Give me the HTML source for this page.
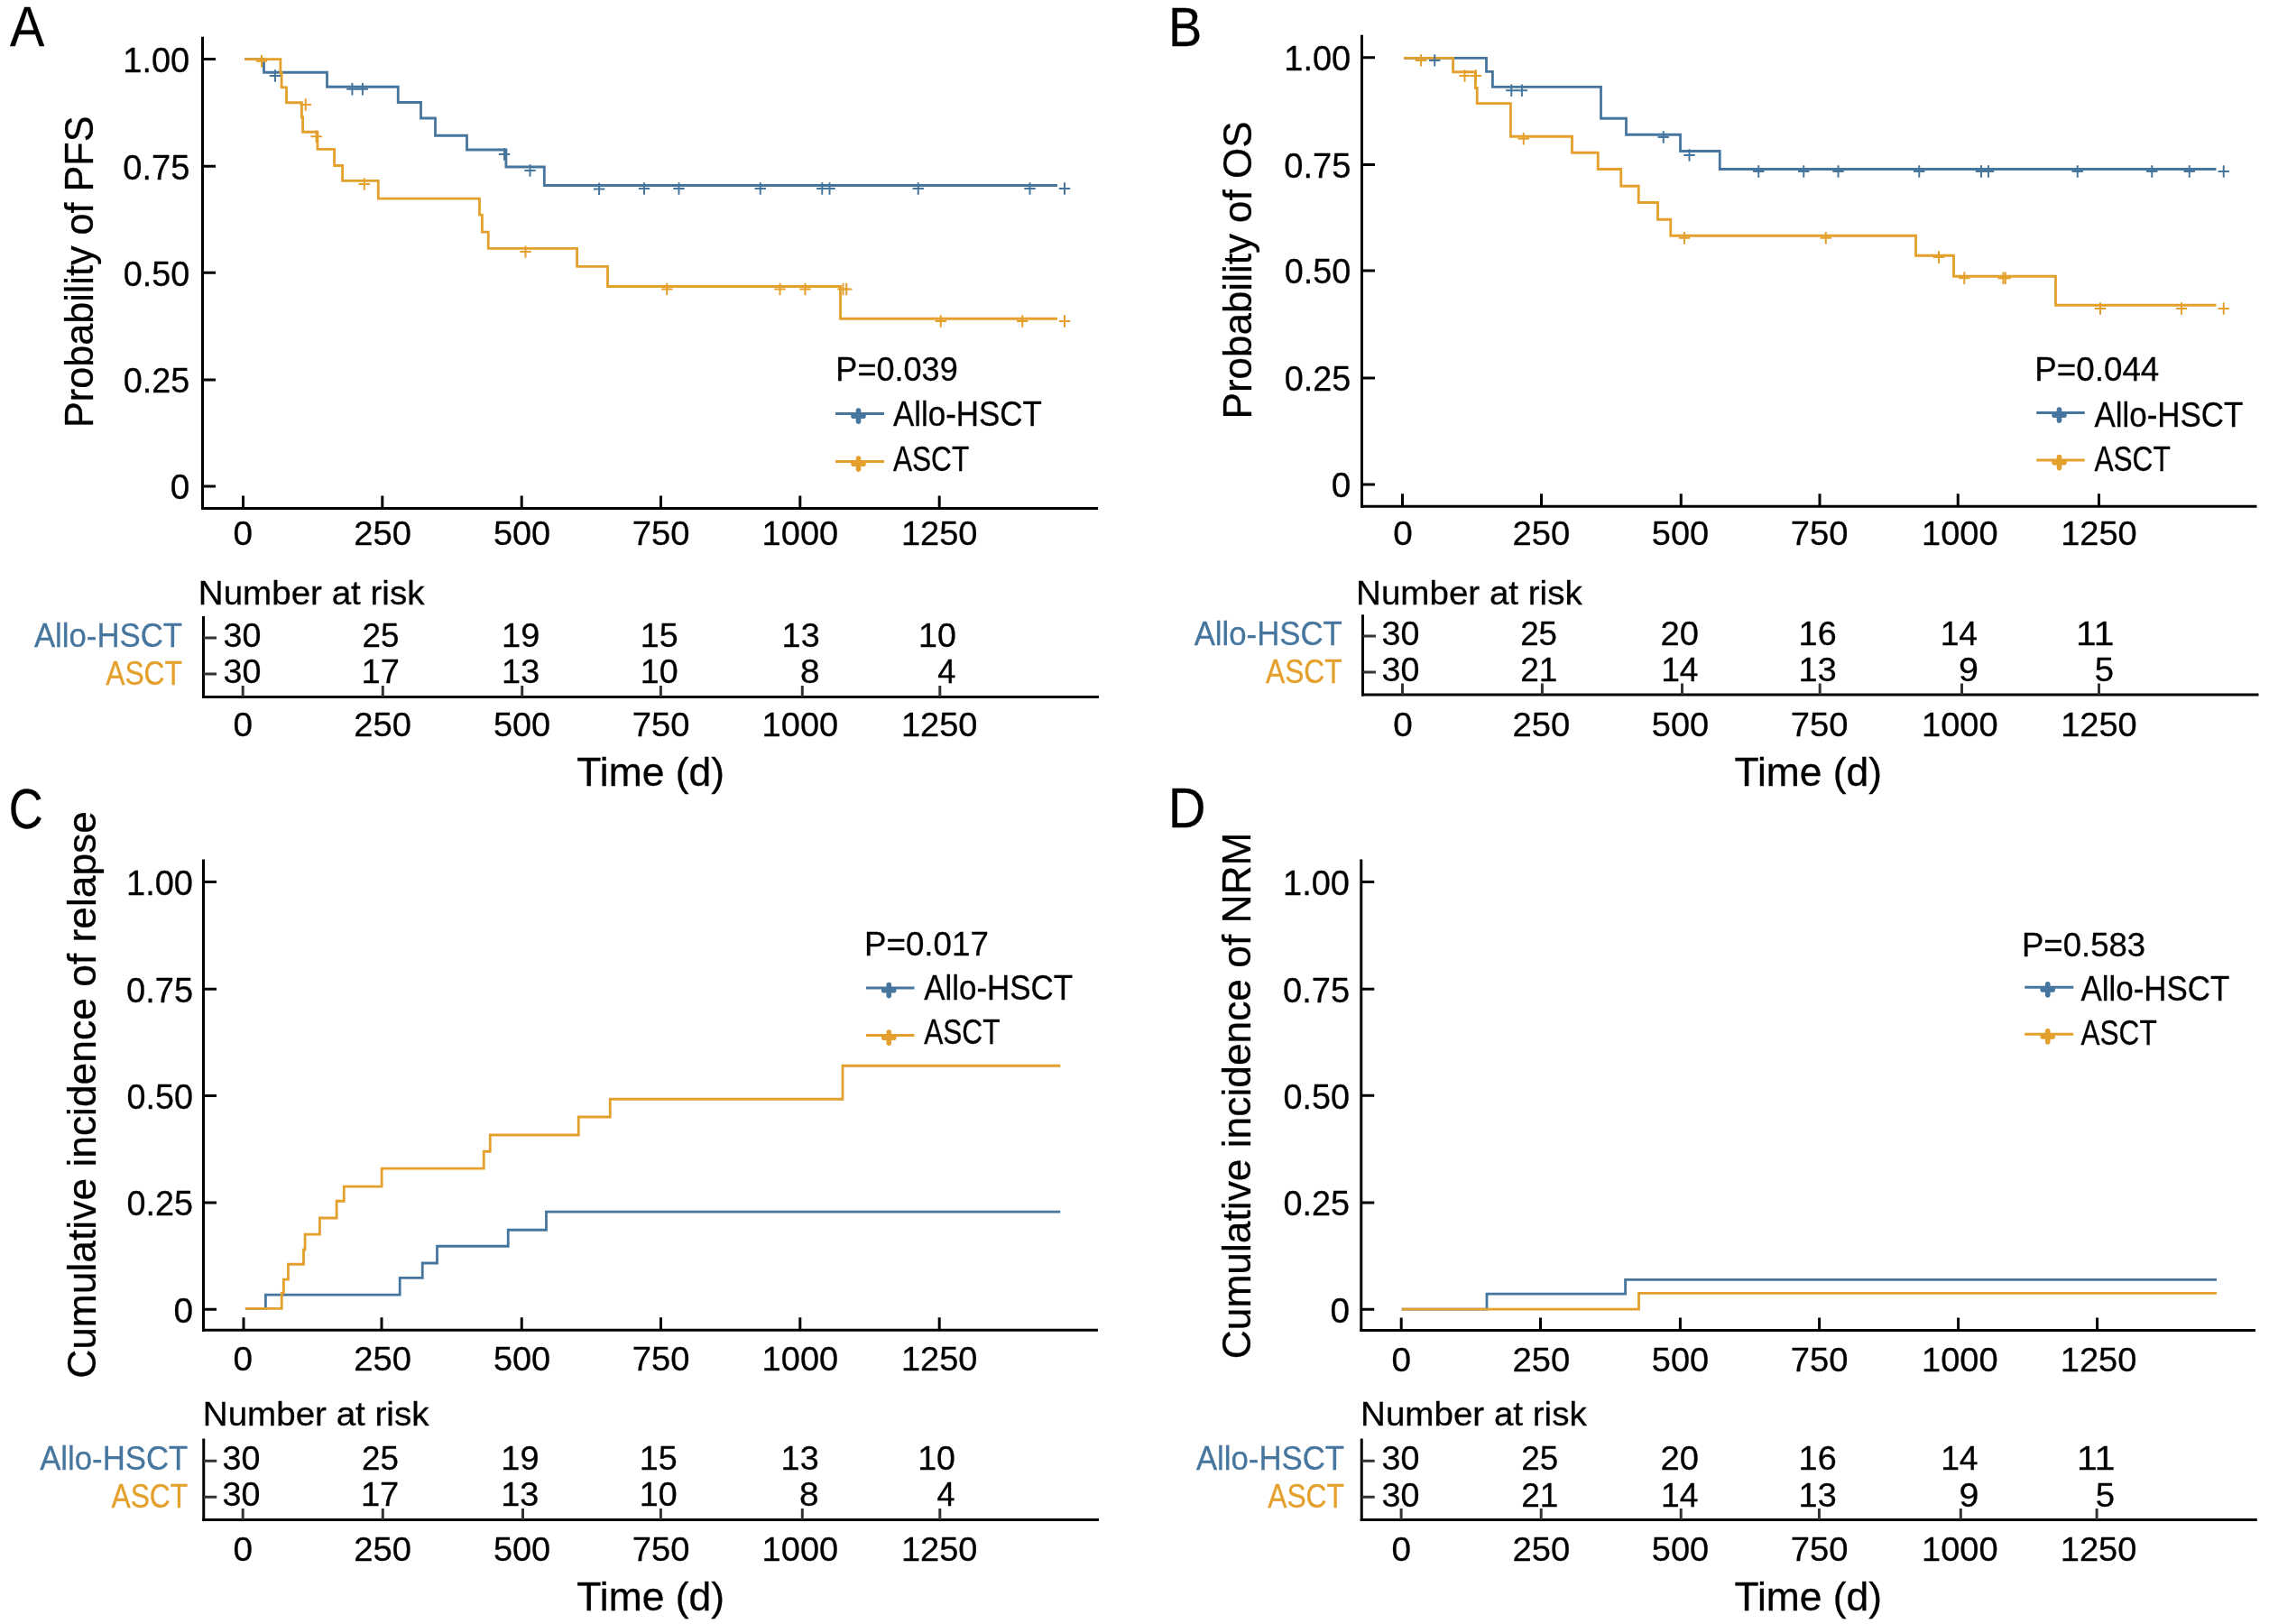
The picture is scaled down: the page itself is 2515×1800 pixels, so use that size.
<!DOCTYPE html>
<html><head><meta charset="utf-8"><style>
html,body{margin:0;padding:0;background:#fff;}
svg{display:block;will-change:transform;}
text{font-family:"Liberation Sans", sans-serif;}
</style></head><body>
<svg width="2515" height="1800" viewBox="0 0 2515 1800">
<rect width="2515" height="1800" fill="#fff"/>
<text x="10.89" y="51.00" font-size="63.23" textLength="38.22" lengthAdjust="spacingAndGlyphs" fill="#000" stroke="#000" stroke-width="0.3">A</text>
<line x1="224.5" y1="40.75" x2="224.5" y2="565.0" stroke="#000" stroke-width="3" stroke-linecap="butt"/>
<line x1="223.0" y1="563.5" x2="1217" y2="563.5" stroke="#000" stroke-width="3" stroke-linecap="butt"/>
<line x1="224.5" y1="65.5" x2="239.0" y2="65.5" stroke="#000" stroke-width="3" stroke-linecap="butt"/>
<text x="136.36" y="79.80" font-size="37.94" textLength="73.87" lengthAdjust="spacingAndGlyphs" fill="#000" stroke="#000" stroke-width="0.3">1.00</text>
<line x1="224.5" y1="184.25" x2="239.0" y2="184.25" stroke="#000" stroke-width="3" stroke-linecap="butt"/>
<text x="136.26" y="198.55" font-size="37.94" textLength="74.09" lengthAdjust="spacingAndGlyphs" fill="#000" stroke="#000" stroke-width="0.3">0.75</text>
<line x1="224.5" y1="302.25" x2="239.0" y2="302.25" stroke="#000" stroke-width="3" stroke-linecap="butt"/>
<text x="136.78" y="316.55" font-size="37.94" textLength="73.45" lengthAdjust="spacingAndGlyphs" fill="#000" stroke="#000" stroke-width="0.3">0.50</text>
<line x1="224.5" y1="421" x2="239.0" y2="421" stroke="#000" stroke-width="3" stroke-linecap="butt"/>
<text x="136.77" y="435.30" font-size="37.94" textLength="73.56" lengthAdjust="spacingAndGlyphs" fill="#000" stroke="#000" stroke-width="0.3">0.25</text>
<line x1="224.5" y1="539" x2="239.0" y2="539" stroke="#000" stroke-width="3" stroke-linecap="butt"/>
<text x="188.74" y="553.30" font-size="37.94" textLength="21.52" lengthAdjust="spacingAndGlyphs" fill="#000" stroke="#000" stroke-width="0.3">0</text>
<line x1="269.5" y1="549.5" x2="269.5" y2="563.5" stroke="#000" stroke-width="3" stroke-linecap="butt"/>
<text x="258.54" y="603.80" font-size="37.79" textLength="21.52" lengthAdjust="spacingAndGlyphs" fill="#000" stroke="#000" stroke-width="0.3">0</text>
<line x1="423.8" y1="549.5" x2="423.8" y2="563.5" stroke="#000" stroke-width="3" stroke-linecap="butt"/>
<text x="392.23" y="603.80" font-size="37.79" textLength="63.71" lengthAdjust="spacingAndGlyphs" fill="#000" stroke="#000" stroke-width="0.3">250</text>
<line x1="578.2" y1="549.5" x2="578.2" y2="563.5" stroke="#000" stroke-width="3" stroke-linecap="butt"/>
<text x="546.93" y="603.80" font-size="37.79" textLength="63.30" lengthAdjust="spacingAndGlyphs" fill="#000" stroke="#000" stroke-width="0.3">500</text>
<line x1="732.5" y1="549.5" x2="732.5" y2="563.5" stroke="#000" stroke-width="3" stroke-linecap="butt"/>
<text x="700.69" y="603.80" font-size="37.79" textLength="63.75" lengthAdjust="spacingAndGlyphs" fill="#000" stroke="#000" stroke-width="0.3">750</text>
<line x1="886.8" y1="549.5" x2="886.8" y2="563.5" stroke="#000" stroke-width="3" stroke-linecap="butt"/>
<text x="844.60" y="603.80" font-size="37.79" textLength="84.58" lengthAdjust="spacingAndGlyphs" fill="#000" stroke="#000" stroke-width="0.3">1000</text>
<line x1="1041.2" y1="549.5" x2="1041.2" y2="563.5" stroke="#000" stroke-width="3" stroke-linecap="butt"/>
<text x="998.90" y="603.80" font-size="37.79" textLength="84.58" lengthAdjust="spacingAndGlyphs" fill="#000" stroke="#000" stroke-width="0.3">1250</text>
<text transform="translate(102.90,470.50) rotate(-90)" x="-3.54" y="0" font-size="43.90" textLength="345.52" lengthAdjust="spacingAndGlyphs" fill="#000" stroke="#000" stroke-width="0.3">Probability of PFS</text>
<text x="926.34" y="422.00" font-size="37.79" textLength="135.37" lengthAdjust="spacingAndGlyphs" fill="#000" stroke="#000" stroke-width="0.3">P=0.039</text>
<line x1="926" y1="458.5" x2="980" y2="458.5" stroke="#46769e" stroke-width="2.8" stroke-linecap="butt"/>
<path d="M946.00 461.30H957.00M951.50 455.00V467.10" stroke="#46769e" stroke-width="5.6" stroke-linecap="round" fill="none"/>
<text x="989.93" y="471.75" font-size="38.08" textLength="164.87" lengthAdjust="spacingAndGlyphs" fill="#000" stroke="#000" stroke-width="0.3">Allo-HSCT</text>
<line x1="926" y1="511.5" x2="980" y2="511.5" stroke="#e4a02c" stroke-width="2.8" stroke-linecap="butt"/>
<path d="M946.00 514.30H957.00M951.50 508.00V520.10" stroke="#e4a02c" stroke-width="5.6" stroke-linecap="round" fill="none"/>
<text x="989.94" y="521.75" font-size="38.08" textLength="84.29" lengthAdjust="spacingAndGlyphs" fill="#000" stroke="#000" stroke-width="0.3">ASCT</text>
<path d="M271.25 65.6H292.5V80.25H362.5V96.25H441.25V113.5H466.5V131H482.5V150.25H517.5V166H560.9V185H603.3V205.5H1172" fill="none" stroke="#46769e" stroke-width="2.8" stroke-linejoin="miter"/>
<path d="M271.25 65.6H310.9V81H312.1V96.9H317.5V113.75H334.4V130H335.6V146.25H351.9V165.4H370.6V183.5H379.6V200.4H419.3V220.2H531.5V238.1H534.4V257.1H541.25V275.4H639.6V295.4H673.5V317.5H931.5V353.25H1172" fill="none" stroke="#e4a02c" stroke-width="2.8" stroke-linejoin="miter"/>
<path d="M298.80 84.00H311.20M305.00 77.30V90.70" stroke="#46769e" stroke-width="2.0" fill="none"/>
<path d="M384.20 98.75H396.60M390.40 92.05V105.45" stroke="#46769e" stroke-width="2.0" fill="none"/>
<path d="M395.70 98.75H408.10M401.90 92.05V105.45" stroke="#46769e" stroke-width="2.0" fill="none"/>
<path d="M552.80 171.00H565.20M559.00 164.30V177.70" stroke="#46769e" stroke-width="2.0" fill="none"/>
<path d="M581.30 189.00H593.70M587.50 182.30V195.70" stroke="#46769e" stroke-width="2.0" fill="none"/>
<path d="M657.90 209.40H670.30M664.10 202.70V216.10" stroke="#46769e" stroke-width="2.0" fill="none"/>
<path d="M707.80 209.00H720.20M714.00 202.30V215.70" stroke="#46769e" stroke-width="2.0" fill="none"/>
<path d="M746.30 209.00H758.70M752.50 202.30V215.70" stroke="#46769e" stroke-width="2.0" fill="none"/>
<path d="M836.55 209.00H848.95M842.75 202.30V215.70" stroke="#46769e" stroke-width="2.0" fill="none"/>
<path d="M905.05 209.00H917.45M911.25 202.30V215.70" stroke="#46769e" stroke-width="2.0" fill="none"/>
<path d="M913.30 209.00H925.70M919.50 202.30V215.70" stroke="#46769e" stroke-width="2.0" fill="none"/>
<path d="M1011.55 209.00H1023.95M1017.75 202.30V215.70" stroke="#46769e" stroke-width="2.0" fill="none"/>
<path d="M1135.30 209.00H1147.70M1141.50 202.30V215.70" stroke="#46769e" stroke-width="2.0" fill="none"/>
<path d="M1173.80 209.00H1186.20M1180.00 202.30V215.70" stroke="#46769e" stroke-width="2.0" fill="none"/>
<path d="M283.80 67.75H296.20M290.00 61.05V74.45" stroke="#e4a02c" stroke-width="2.0" fill="none"/>
<path d="M332.55 116.00H344.95M338.75 109.30V122.70" stroke="#e4a02c" stroke-width="2.0" fill="none"/>
<path d="M344.40 151.25H356.80M350.60 144.55V157.95" stroke="#e4a02c" stroke-width="2.0" fill="none"/>
<path d="M397.55 204.00H409.95M403.75 197.30V210.70" stroke="#e4a02c" stroke-width="2.0" fill="none"/>
<path d="M576.30 279.10H588.70M582.50 272.40V285.80" stroke="#e4a02c" stroke-width="2.0" fill="none"/>
<path d="M733.05 320.50H745.45M739.25 313.80V327.20" stroke="#e4a02c" stroke-width="2.0" fill="none"/>
<path d="M858.30 320.50H870.70M864.50 313.80V327.20" stroke="#e4a02c" stroke-width="2.0" fill="none"/>
<path d="M886.30 320.50H898.70M892.50 313.80V327.20" stroke="#e4a02c" stroke-width="2.0" fill="none"/>
<path d="M928.30 320.50H940.70M934.50 313.80V327.20" stroke="#e4a02c" stroke-width="2.0" fill="none"/>
<path d="M932.05 320.50H944.45M938.25 313.80V327.20" stroke="#e4a02c" stroke-width="2.0" fill="none"/>
<path d="M1036.55 356.00H1048.95M1042.75 349.30V362.70" stroke="#e4a02c" stroke-width="2.0" fill="none"/>
<path d="M1127.05 356.00H1139.45M1133.25 349.30V362.70" stroke="#e4a02c" stroke-width="2.0" fill="none"/>
<path d="M1173.80 356.00H1186.20M1180.00 349.30V362.70" stroke="#e4a02c" stroke-width="2.0" fill="none"/>
<text x="219.84" y="670.00" font-size="37.79" textLength="250.61" lengthAdjust="spacingAndGlyphs" fill="#000" stroke="#000" stroke-width="0.3">Number at risk</text>
<line x1="225.5" y1="683" x2="225.5" y2="774.0" stroke="#000" stroke-width="3" stroke-linecap="butt"/>
<line x1="224.0" y1="772.5" x2="1218" y2="772.5" stroke="#000" stroke-width="3" stroke-linecap="butt"/>
<line x1="225.5" y1="707" x2="240.0" y2="707" stroke="#333" stroke-width="3" stroke-linecap="butt"/>
<line x1="225.5" y1="747" x2="240.0" y2="747" stroke="#333" stroke-width="3" stroke-linecap="butt"/>
<line x1="269.2" y1="760.0" x2="269.2" y2="772.5" stroke="#333" stroke-width="3" stroke-linecap="butt"/>
<line x1="424.3" y1="760.0" x2="424.3" y2="772.5" stroke="#333" stroke-width="3" stroke-linecap="butt"/>
<line x1="578.7" y1="760.0" x2="578.7" y2="772.5" stroke="#333" stroke-width="3" stroke-linecap="butt"/>
<line x1="732.4" y1="760.0" x2="732.4" y2="772.5" stroke="#333" stroke-width="3" stroke-linecap="butt"/>
<line x1="889.3" y1="760.0" x2="889.3" y2="772.5" stroke="#333" stroke-width="3" stroke-linecap="butt"/>
<line x1="1041.8" y1="760.0" x2="1041.8" y2="772.5" stroke="#333" stroke-width="3" stroke-linecap="butt"/>
<text x="37.88" y="716.75" font-size="37.65" textLength="164.17" lengthAdjust="spacingAndGlyphs" fill="#46769e" stroke="#46769e" stroke-width="0.3">Allo-HSCT</text>
<text x="117.19" y="758.75" font-size="37.65" textLength="84.79" lengthAdjust="spacingAndGlyphs" fill="#e4a02c" stroke="#e4a02c" stroke-width="0.3">ASCT</text>
<text x="247.57" y="717.20" font-size="37.79" textLength="41.91" lengthAdjust="spacingAndGlyphs" fill="#000" stroke="#000" stroke-width="0.3">30</text>
<text x="401.55" y="717.20" font-size="37.79" textLength="40.89" lengthAdjust="spacingAndGlyphs" fill="#000" stroke="#000" stroke-width="0.3">25</text>
<text x="556.11" y="717.20" font-size="37.79" textLength="42.19" lengthAdjust="spacingAndGlyphs" fill="#000" stroke="#000" stroke-width="0.3">19</text>
<text x="709.83" y="717.20" font-size="37.79" textLength="41.96" lengthAdjust="spacingAndGlyphs" fill="#000" stroke="#000" stroke-width="0.3">15</text>
<text x="866.62" y="717.20" font-size="37.79" textLength="42.04" lengthAdjust="spacingAndGlyphs" fill="#000" stroke="#000" stroke-width="0.3">13</text>
<text x="1018.04" y="717.20" font-size="37.79" textLength="41.83" lengthAdjust="spacingAndGlyphs" fill="#000" stroke="#000" stroke-width="0.3">10</text>
<text x="247.57" y="757.00" font-size="37.79" textLength="41.91" lengthAdjust="spacingAndGlyphs" fill="#000" stroke="#000" stroke-width="0.3">30</text>
<text x="400.50" y="757.00" font-size="37.79" textLength="42.31" lengthAdjust="spacingAndGlyphs" fill="#000" stroke="#000" stroke-width="0.3">17</text>
<text x="556.12" y="757.00" font-size="37.79" textLength="42.04" lengthAdjust="spacingAndGlyphs" fill="#000" stroke="#000" stroke-width="0.3">13</text>
<text x="709.84" y="757.00" font-size="37.79" textLength="41.83" lengthAdjust="spacingAndGlyphs" fill="#000" stroke="#000" stroke-width="0.3">10</text>
<text x="887.11" y="757.00" font-size="37.79" textLength="21.57" lengthAdjust="spacingAndGlyphs" fill="#000" stroke="#000" stroke-width="0.3">8</text>
<text x="1039.37" y="757.00" font-size="37.79" textLength="20.09" lengthAdjust="spacingAndGlyphs" fill="#000" stroke="#000" stroke-width="0.3">4</text>
<text x="258.54" y="815.50" font-size="37.79" textLength="21.52" lengthAdjust="spacingAndGlyphs" fill="#000" stroke="#000" stroke-width="0.3">0</text>
<text x="392.23" y="815.50" font-size="37.79" textLength="63.71" lengthAdjust="spacingAndGlyphs" fill="#000" stroke="#000" stroke-width="0.3">250</text>
<text x="546.93" y="815.50" font-size="37.79" textLength="63.30" lengthAdjust="spacingAndGlyphs" fill="#000" stroke="#000" stroke-width="0.3">500</text>
<text x="700.69" y="815.50" font-size="37.79" textLength="63.75" lengthAdjust="spacingAndGlyphs" fill="#000" stroke="#000" stroke-width="0.3">750</text>
<text x="844.60" y="815.50" font-size="37.79" textLength="84.58" lengthAdjust="spacingAndGlyphs" fill="#000" stroke="#000" stroke-width="0.3">1000</text>
<text x="998.90" y="815.50" font-size="37.79" textLength="84.58" lengthAdjust="spacingAndGlyphs" fill="#000" stroke="#000" stroke-width="0.3">1250</text>
<text x="639.31" y="870.80" font-size="44.04" textLength="163.72" lengthAdjust="spacingAndGlyphs" fill="#000" stroke="#000" stroke-width="0.3">Time (d)</text>
<text x="1294.91" y="51.25" font-size="61.77" textLength="37.28" lengthAdjust="spacingAndGlyphs" fill="#000" stroke="#000" stroke-width="0.3">B</text>
<line x1="1509.5" y1="38.75" x2="1509.5" y2="562.75" stroke="#000" stroke-width="3" stroke-linecap="butt"/>
<line x1="1508.0" y1="561.25" x2="2501.5" y2="561.25" stroke="#000" stroke-width="3" stroke-linecap="butt"/>
<line x1="1509.5" y1="63.75" x2="1524.0" y2="63.75" stroke="#000" stroke-width="3" stroke-linecap="butt"/>
<text x="1423.36" y="78.05" font-size="37.94" textLength="73.87" lengthAdjust="spacingAndGlyphs" fill="#000" stroke="#000" stroke-width="0.3">1.00</text>
<line x1="1509.5" y1="182.5" x2="1524.0" y2="182.5" stroke="#000" stroke-width="3" stroke-linecap="butt"/>
<text x="1423.26" y="196.80" font-size="37.94" textLength="74.09" lengthAdjust="spacingAndGlyphs" fill="#000" stroke="#000" stroke-width="0.3">0.75</text>
<line x1="1509.5" y1="300" x2="1524.0" y2="300" stroke="#000" stroke-width="3" stroke-linecap="butt"/>
<text x="1423.78" y="314.30" font-size="37.94" textLength="73.45" lengthAdjust="spacingAndGlyphs" fill="#000" stroke="#000" stroke-width="0.3">0.50</text>
<line x1="1509.5" y1="419" x2="1524.0" y2="419" stroke="#000" stroke-width="3" stroke-linecap="butt"/>
<text x="1423.77" y="433.30" font-size="37.94" textLength="73.56" lengthAdjust="spacingAndGlyphs" fill="#000" stroke="#000" stroke-width="0.3">0.25</text>
<line x1="1509.5" y1="537" x2="1524.0" y2="537" stroke="#000" stroke-width="3" stroke-linecap="butt"/>
<text x="1475.74" y="551.30" font-size="37.94" textLength="21.52" lengthAdjust="spacingAndGlyphs" fill="#000" stroke="#000" stroke-width="0.3">0</text>
<line x1="1554.5" y1="547.25" x2="1554.5" y2="561.25" stroke="#000" stroke-width="3" stroke-linecap="butt"/>
<text x="1544.24" y="603.80" font-size="37.79" textLength="21.52" lengthAdjust="spacingAndGlyphs" fill="#000" stroke="#000" stroke-width="0.3">0</text>
<line x1="1708.5" y1="547.25" x2="1708.5" y2="561.25" stroke="#000" stroke-width="3" stroke-linecap="butt"/>
<text x="1676.43" y="603.80" font-size="37.79" textLength="63.71" lengthAdjust="spacingAndGlyphs" fill="#000" stroke="#000" stroke-width="0.3">250</text>
<line x1="1863.25" y1="547.25" x2="1863.25" y2="561.25" stroke="#000" stroke-width="3" stroke-linecap="butt"/>
<text x="1830.83" y="603.80" font-size="37.79" textLength="63.30" lengthAdjust="spacingAndGlyphs" fill="#000" stroke="#000" stroke-width="0.3">500</text>
<line x1="2017" y1="547.25" x2="2017" y2="561.25" stroke="#000" stroke-width="3" stroke-linecap="butt"/>
<text x="1984.89" y="603.80" font-size="37.79" textLength="63.75" lengthAdjust="spacingAndGlyphs" fill="#000" stroke="#000" stroke-width="0.3">750</text>
<line x1="2170.25" y1="547.25" x2="2170.25" y2="561.25" stroke="#000" stroke-width="3" stroke-linecap="butt"/>
<text x="2130.00" y="603.80" font-size="37.79" textLength="84.58" lengthAdjust="spacingAndGlyphs" fill="#000" stroke="#000" stroke-width="0.3">1000</text>
<line x1="2326.5" y1="547.25" x2="2326.5" y2="561.25" stroke="#000" stroke-width="3" stroke-linecap="butt"/>
<text x="2284.20" y="603.80" font-size="37.79" textLength="84.58" lengthAdjust="spacingAndGlyphs" fill="#000" stroke="#000" stroke-width="0.3">1250</text>
<text transform="translate(1387.10,460.80) rotate(-90)" x="-3.61" y="0" font-size="44.33" textLength="329.93" lengthAdjust="spacingAndGlyphs" fill="#000" stroke="#000" stroke-width="0.3">Probability of OS</text>
<text x="2255.23" y="422.00" font-size="37.79" textLength="138.10" lengthAdjust="spacingAndGlyphs" fill="#000" stroke="#000" stroke-width="0.3">P=0.044</text>
<line x1="2257.25" y1="457.5" x2="2310.75" y2="457.5" stroke="#46769e" stroke-width="2.8" stroke-linecap="butt"/>
<path d="M2277.00 460.30H2288.00M2282.50 454.00V466.10" stroke="#46769e" stroke-width="5.6" stroke-linecap="round" fill="none"/>
<text x="2321.43" y="473.25" font-size="38.08" textLength="164.87" lengthAdjust="spacingAndGlyphs" fill="#000" stroke="#000" stroke-width="0.3">Allo-HSCT</text>
<line x1="2257.25" y1="510" x2="2310.75" y2="510" stroke="#e4a02c" stroke-width="2.8" stroke-linecap="butt"/>
<path d="M2277.00 512.80H2288.00M2282.50 506.50V518.60" stroke="#e4a02c" stroke-width="5.6" stroke-linecap="round" fill="none"/>
<text x="2321.44" y="522.00" font-size="38.08" textLength="84.29" lengthAdjust="spacingAndGlyphs" fill="#000" stroke="#000" stroke-width="0.3">ASCT</text>
<path d="M1556 64.4H1647.5V79.4H1654.4V96.4H1774.5V131.25H1802.5V149.25H1862.5V167.5H1906.25V187.5H2456.5" fill="none" stroke="#46769e" stroke-width="2.8" stroke-linejoin="miter"/>
<path d="M1556 64.4H1610.6V79.75H1635.4V97.5H1637.25V114.6H1674.4V151.25H1742.5V169.25H1771.25V187.5H1796.75V206.25H1816.25V224.5H1837.5V243.25H1851.75V261.25H2123.5V283.25H2165.5V306.25H2278.5V338.25H2456.5" fill="none" stroke="#e4a02c" stroke-width="2.8" stroke-linejoin="miter"/>
<path d="M1584.05 66.90H1596.45M1590.25 60.20V73.60" stroke="#46769e" stroke-width="2.0" fill="none"/>
<path d="M1669.05 100.25H1681.45M1675.25 93.55V106.95" stroke="#46769e" stroke-width="2.0" fill="none"/>
<path d="M1680.70 100.25H1693.10M1686.90 93.55V106.95" stroke="#46769e" stroke-width="2.0" fill="none"/>
<path d="M1837.55 152.00H1849.95M1843.75 145.30V158.70" stroke="#46769e" stroke-width="2.0" fill="none"/>
<path d="M1866.30 172.00H1878.70M1872.50 165.30V178.70" stroke="#46769e" stroke-width="2.0" fill="none"/>
<path d="M1943.05 190.00H1955.45M1949.25 183.30V196.70" stroke="#46769e" stroke-width="2.0" fill="none"/>
<path d="M1993.05 190.00H2005.45M1999.25 183.30V196.70" stroke="#46769e" stroke-width="2.0" fill="none"/>
<path d="M2031.30 190.00H2043.70M2037.50 183.30V196.70" stroke="#46769e" stroke-width="2.0" fill="none"/>
<path d="M2121.05 190.00H2133.45M2127.25 183.30V196.70" stroke="#46769e" stroke-width="2.0" fill="none"/>
<path d="M2189.80 190.00H2202.20M2196.00 183.30V196.70" stroke="#46769e" stroke-width="2.0" fill="none"/>
<path d="M2197.80 190.00H2210.20M2204.00 183.30V196.70" stroke="#46769e" stroke-width="2.0" fill="none"/>
<path d="M2296.55 190.00H2308.95M2302.75 183.30V196.70" stroke="#46769e" stroke-width="2.0" fill="none"/>
<path d="M2379.05 190.00H2391.45M2385.25 183.30V196.70" stroke="#46769e" stroke-width="2.0" fill="none"/>
<path d="M2420.55 190.00H2432.95M2426.75 183.30V196.70" stroke="#46769e" stroke-width="2.0" fill="none"/>
<path d="M2458.55 190.00H2470.95M2464.75 183.30V196.70" stroke="#46769e" stroke-width="2.0" fill="none"/>
<path d="M1568.80 66.90H1581.20M1575.00 60.20V73.60" stroke="#e4a02c" stroke-width="2.0" fill="none"/>
<path d="M1617.30 84.00H1629.70M1623.50 77.30V90.70" stroke="#e4a02c" stroke-width="2.0" fill="none"/>
<path d="M1629.80 84.00H1642.20M1636.00 77.30V90.70" stroke="#e4a02c" stroke-width="2.0" fill="none"/>
<path d="M1682.55 153.75H1694.95M1688.75 147.05V160.45" stroke="#e4a02c" stroke-width="2.0" fill="none"/>
<path d="M1860.80 263.75H1873.20M1867.00 257.05V270.45" stroke="#e4a02c" stroke-width="2.0" fill="none"/>
<path d="M2017.55 263.75H2029.95M2023.75 257.05V270.45" stroke="#e4a02c" stroke-width="2.0" fill="none"/>
<path d="M2142.80 285.00H2155.20M2149.00 278.30V291.70" stroke="#e4a02c" stroke-width="2.0" fill="none"/>
<path d="M2171.05 308.25H2183.45M2177.25 301.55V314.95" stroke="#e4a02c" stroke-width="2.0" fill="none"/>
<path d="M2214.30 308.25H2226.70M2220.50 301.55V314.95" stroke="#e4a02c" stroke-width="2.0" fill="none"/>
<path d="M2216.55 308.25H2228.95M2222.75 301.55V314.95" stroke="#e4a02c" stroke-width="2.0" fill="none"/>
<path d="M2321.80 342.00H2334.20M2328.00 335.30V348.70" stroke="#e4a02c" stroke-width="2.0" fill="none"/>
<path d="M2411.80 342.00H2424.20M2418.00 335.30V348.70" stroke="#e4a02c" stroke-width="2.0" fill="none"/>
<path d="M2458.55 342.00H2470.95M2464.75 335.30V348.70" stroke="#e4a02c" stroke-width="2.0" fill="none"/>
<text x="1503.09" y="670.00" font-size="37.79" textLength="250.61" lengthAdjust="spacingAndGlyphs" fill="#000" stroke="#000" stroke-width="0.3">Number at risk</text>
<line x1="1510.5" y1="681.25" x2="1510.5" y2="771.5" stroke="#000" stroke-width="3" stroke-linecap="butt"/>
<line x1="1509.0" y1="770" x2="2503.5" y2="770" stroke="#000" stroke-width="3" stroke-linecap="butt"/>
<line x1="1510.5" y1="705" x2="1525.0" y2="705" stroke="#333" stroke-width="3" stroke-linecap="butt"/>
<line x1="1510.5" y1="745" x2="1525.0" y2="745" stroke="#333" stroke-width="3" stroke-linecap="butt"/>
<line x1="1554.5" y1="757.5" x2="1554.5" y2="770" stroke="#333" stroke-width="3" stroke-linecap="butt"/>
<line x1="1709.4" y1="757.5" x2="1709.4" y2="770" stroke="#333" stroke-width="3" stroke-linecap="butt"/>
<line x1="1864.5" y1="757.5" x2="1864.5" y2="770" stroke="#333" stroke-width="3" stroke-linecap="butt"/>
<line x1="2017.2" y1="757.5" x2="2017.2" y2="770" stroke="#333" stroke-width="3" stroke-linecap="butt"/>
<line x1="2174.5" y1="757.5" x2="2174.5" y2="770" stroke="#333" stroke-width="3" stroke-linecap="butt"/>
<line x1="2326.5" y1="757.5" x2="2326.5" y2="770" stroke="#333" stroke-width="3" stroke-linecap="butt"/>
<text x="1323.63" y="715.00" font-size="37.65" textLength="164.17" lengthAdjust="spacingAndGlyphs" fill="#46769e" stroke="#46769e" stroke-width="0.3">Allo-HSCT</text>
<text x="1402.94" y="756.75" font-size="37.65" textLength="84.79" lengthAdjust="spacingAndGlyphs" fill="#e4a02c" stroke="#e4a02c" stroke-width="0.3">ASCT</text>
<text x="1531.57" y="715.00" font-size="37.79" textLength="41.91" lengthAdjust="spacingAndGlyphs" fill="#000" stroke="#000" stroke-width="0.3">30</text>
<text x="1685.15" y="715.00" font-size="37.79" textLength="40.89" lengthAdjust="spacingAndGlyphs" fill="#000" stroke="#000" stroke-width="0.3">25</text>
<text x="1840.58" y="715.00" font-size="37.79" textLength="42.41" lengthAdjust="spacingAndGlyphs" fill="#000" stroke="#000" stroke-width="0.3">20</text>
<text x="1993.62" y="715.00" font-size="37.79" textLength="42.04" lengthAdjust="spacingAndGlyphs" fill="#000" stroke="#000" stroke-width="0.3">16</text>
<text x="2150.66" y="715.00" font-size="37.79" textLength="41.43" lengthAdjust="spacingAndGlyphs" fill="#000" stroke="#000" stroke-width="0.3">14</text>
<text x="2301.11" y="715.00" font-size="37.79" textLength="42.25" lengthAdjust="spacingAndGlyphs" fill="#000" stroke="#000" stroke-width="0.3">11</text>
<text x="1531.57" y="755.25" font-size="37.79" textLength="41.91" lengthAdjust="spacingAndGlyphs" fill="#000" stroke="#000" stroke-width="0.3">30</text>
<text x="1685.14" y="755.25" font-size="37.79" textLength="41.17" lengthAdjust="spacingAndGlyphs" fill="#000" stroke="#000" stroke-width="0.3">21</text>
<text x="1841.16" y="755.25" font-size="37.79" textLength="41.43" lengthAdjust="spacingAndGlyphs" fill="#000" stroke="#000" stroke-width="0.3">14</text>
<text x="1993.62" y="755.25" font-size="37.79" textLength="42.04" lengthAdjust="spacingAndGlyphs" fill="#000" stroke="#000" stroke-width="0.3">13</text>
<text x="2170.95" y="755.25" font-size="37.79" textLength="21.91" lengthAdjust="spacingAndGlyphs" fill="#000" stroke="#000" stroke-width="0.3">9</text>
<text x="2321.76" y="755.25" font-size="37.79" textLength="21.35" lengthAdjust="spacingAndGlyphs" fill="#000" stroke="#000" stroke-width="0.3">5</text>
<text x="1544.24" y="815.50" font-size="37.79" textLength="21.52" lengthAdjust="spacingAndGlyphs" fill="#000" stroke="#000" stroke-width="0.3">0</text>
<text x="1676.43" y="815.50" font-size="37.79" textLength="63.71" lengthAdjust="spacingAndGlyphs" fill="#000" stroke="#000" stroke-width="0.3">250</text>
<text x="1830.83" y="815.50" font-size="37.79" textLength="63.30" lengthAdjust="spacingAndGlyphs" fill="#000" stroke="#000" stroke-width="0.3">500</text>
<text x="1984.89" y="815.50" font-size="37.79" textLength="63.75" lengthAdjust="spacingAndGlyphs" fill="#000" stroke="#000" stroke-width="0.3">750</text>
<text x="2130.00" y="815.50" font-size="37.79" textLength="84.58" lengthAdjust="spacingAndGlyphs" fill="#000" stroke="#000" stroke-width="0.3">1000</text>
<text x="2284.20" y="815.50" font-size="37.79" textLength="84.58" lengthAdjust="spacingAndGlyphs" fill="#000" stroke="#000" stroke-width="0.3">1250</text>
<text x="1922.41" y="870.80" font-size="44.04" textLength="163.72" lengthAdjust="spacingAndGlyphs" fill="#000" stroke="#000" stroke-width="0.3">Time (d)</text>
<text x="9.83" y="917.50" font-size="63.23" textLength="37.92" lengthAdjust="spacingAndGlyphs" fill="#000" stroke="#000" stroke-width="0.3">C</text>
<line x1="225.5" y1="952.5" x2="225.5" y2="1475.75" stroke="#000" stroke-width="3" stroke-linecap="butt"/>
<line x1="224.0" y1="1474.25" x2="1217" y2="1474.25" stroke="#000" stroke-width="3" stroke-linecap="butt"/>
<line x1="225.5" y1="977.5" x2="240.0" y2="977.5" stroke="#000" stroke-width="3" stroke-linecap="butt"/>
<text x="140.11" y="991.80" font-size="37.94" textLength="73.87" lengthAdjust="spacingAndGlyphs" fill="#000" stroke="#000" stroke-width="0.3">1.00</text>
<line x1="225.5" y1="1096.25" x2="240.0" y2="1096.25" stroke="#000" stroke-width="3" stroke-linecap="butt"/>
<text x="140.01" y="1110.55" font-size="37.94" textLength="74.09" lengthAdjust="spacingAndGlyphs" fill="#000" stroke="#000" stroke-width="0.3">0.75</text>
<line x1="225.5" y1="1214.5" x2="240.0" y2="1214.5" stroke="#000" stroke-width="3" stroke-linecap="butt"/>
<text x="140.53" y="1228.80" font-size="37.94" textLength="73.45" lengthAdjust="spacingAndGlyphs" fill="#000" stroke="#000" stroke-width="0.3">0.50</text>
<line x1="225.5" y1="1333" x2="240.0" y2="1333" stroke="#000" stroke-width="3" stroke-linecap="butt"/>
<text x="140.52" y="1347.30" font-size="37.94" textLength="73.56" lengthAdjust="spacingAndGlyphs" fill="#000" stroke="#000" stroke-width="0.3">0.25</text>
<line x1="225.5" y1="1451.25" x2="240.0" y2="1451.25" stroke="#000" stroke-width="3" stroke-linecap="butt"/>
<text x="192.49" y="1465.55" font-size="37.94" textLength="21.52" lengthAdjust="spacingAndGlyphs" fill="#000" stroke="#000" stroke-width="0.3">0</text>
<line x1="270" y1="1460.25" x2="270" y2="1474.25" stroke="#000" stroke-width="3" stroke-linecap="butt"/>
<text x="258.54" y="1519.25" font-size="37.79" textLength="21.52" lengthAdjust="spacingAndGlyphs" fill="#000" stroke="#000" stroke-width="0.3">0</text>
<line x1="423" y1="1460.25" x2="423" y2="1474.25" stroke="#000" stroke-width="3" stroke-linecap="butt"/>
<text x="392.23" y="1519.25" font-size="37.79" textLength="63.71" lengthAdjust="spacingAndGlyphs" fill="#000" stroke="#000" stroke-width="0.3">250</text>
<line x1="578.25" y1="1460.25" x2="578.25" y2="1474.25" stroke="#000" stroke-width="3" stroke-linecap="butt"/>
<text x="546.93" y="1519.25" font-size="37.79" textLength="63.30" lengthAdjust="spacingAndGlyphs" fill="#000" stroke="#000" stroke-width="0.3">500</text>
<line x1="732.5" y1="1460.25" x2="732.5" y2="1474.25" stroke="#000" stroke-width="3" stroke-linecap="butt"/>
<text x="700.69" y="1519.25" font-size="37.79" textLength="63.75" lengthAdjust="spacingAndGlyphs" fill="#000" stroke="#000" stroke-width="0.3">750</text>
<line x1="886.8" y1="1460.25" x2="886.8" y2="1474.25" stroke="#000" stroke-width="3" stroke-linecap="butt"/>
<text x="844.60" y="1519.25" font-size="37.79" textLength="84.58" lengthAdjust="spacingAndGlyphs" fill="#000" stroke="#000" stroke-width="0.3">1000</text>
<line x1="1041.2" y1="1460.25" x2="1041.2" y2="1474.25" stroke="#000" stroke-width="3" stroke-linecap="butt"/>
<text x="998.90" y="1519.25" font-size="37.79" textLength="84.58" lengthAdjust="spacingAndGlyphs" fill="#000" stroke="#000" stroke-width="0.3">1250</text>
<text transform="translate(106.30,1525.60) rotate(-90)" x="-2.25" y="0" font-size="44.33" textLength="628.82" lengthAdjust="spacingAndGlyphs" fill="#000" stroke="#000" stroke-width="0.3">Cumulative incidence of relapse</text>
<text x="957.99" y="1059.25" font-size="37.79" textLength="137.86" lengthAdjust="spacingAndGlyphs" fill="#000" stroke="#000" stroke-width="0.3">P=0.017</text>
<line x1="960" y1="1095" x2="1013.5" y2="1095" stroke="#46769e" stroke-width="2.8" stroke-linecap="butt"/>
<path d="M979.75 1097.80H990.75M985.25 1091.50V1103.60" stroke="#46769e" stroke-width="5.6" stroke-linecap="round" fill="none"/>
<text x="1024.18" y="1108.25" font-size="38.08" textLength="164.87" lengthAdjust="spacingAndGlyphs" fill="#000" stroke="#000" stroke-width="0.3">Allo-HSCT</text>
<line x1="960" y1="1147.5" x2="1013.5" y2="1147.5" stroke="#e4a02c" stroke-width="2.8" stroke-linecap="butt"/>
<path d="M979.75 1150.30H990.75M985.25 1144.00V1156.10" stroke="#e4a02c" stroke-width="5.6" stroke-linecap="round" fill="none"/>
<text x="1024.19" y="1157.00" font-size="38.08" textLength="84.29" lengthAdjust="spacingAndGlyphs" fill="#000" stroke="#000" stroke-width="0.3">ASCT</text>
<path d="M271.9 1450.4H294.4V1435.2H443.2V1416.4H468.25V1400H484.5V1381.25H563.25V1363.25H605.5V1343.1H1175.25" fill="none" stroke="#46769e" stroke-width="2.8" stroke-linejoin="miter"/>
<path d="M271.9 1450.4H312.25V1433.1H314.4V1418.1H319.4V1401.25H336.5V1385H338.1V1368.1H354.4V1350H373.1V1331.25H381.25V1315.2H423.1V1295.2H536.25V1276.25H543.25V1258H641.25V1238H676.25V1218.25H934V1181.25H1175.25" fill="none" stroke="#e4a02c" stroke-width="2.8" stroke-linejoin="miter"/>
<text x="224.84" y="1580.00" font-size="37.79" textLength="250.61" lengthAdjust="spacingAndGlyphs" fill="#000" stroke="#000" stroke-width="0.3">Number at risk</text>
<line x1="225.75" y1="1594.5" x2="225.75" y2="1686.0" stroke="#000" stroke-width="3" stroke-linecap="butt"/>
<line x1="224.25" y1="1684.5" x2="1218" y2="1684.5" stroke="#000" stroke-width="3" stroke-linecap="butt"/>
<line x1="225.75" y1="1619.25" x2="240.25" y2="1619.25" stroke="#333" stroke-width="3" stroke-linecap="butt"/>
<line x1="225.75" y1="1659.25" x2="240.25" y2="1659.25" stroke="#333" stroke-width="3" stroke-linecap="butt"/>
<line x1="269.2" y1="1672.0" x2="269.2" y2="1684.5" stroke="#333" stroke-width="3" stroke-linecap="butt"/>
<line x1="424.3" y1="1672.0" x2="424.3" y2="1684.5" stroke="#333" stroke-width="3" stroke-linecap="butt"/>
<line x1="579.5" y1="1672.0" x2="579.5" y2="1684.5" stroke="#333" stroke-width="3" stroke-linecap="butt"/>
<line x1="732.4" y1="1672.0" x2="732.4" y2="1684.5" stroke="#333" stroke-width="3" stroke-linecap="butt"/>
<line x1="889.3" y1="1672.0" x2="889.3" y2="1684.5" stroke="#333" stroke-width="3" stroke-linecap="butt"/>
<line x1="1041.8" y1="1672.0" x2="1041.8" y2="1684.5" stroke="#333" stroke-width="3" stroke-linecap="butt"/>
<text x="44.13" y="1629.25" font-size="37.65" textLength="164.17" lengthAdjust="spacingAndGlyphs" fill="#46769e" stroke="#46769e" stroke-width="0.3">Allo-HSCT</text>
<text x="123.44" y="1670.50" font-size="37.65" textLength="84.79" lengthAdjust="spacingAndGlyphs" fill="#e4a02c" stroke="#e4a02c" stroke-width="0.3">ASCT</text>
<text x="246.47" y="1629.00" font-size="37.79" textLength="41.91" lengthAdjust="spacingAndGlyphs" fill="#000" stroke="#000" stroke-width="0.3">30</text>
<text x="400.95" y="1629.00" font-size="37.79" textLength="40.89" lengthAdjust="spacingAndGlyphs" fill="#000" stroke="#000" stroke-width="0.3">25</text>
<text x="555.31" y="1629.00" font-size="37.79" textLength="42.19" lengthAdjust="spacingAndGlyphs" fill="#000" stroke="#000" stroke-width="0.3">19</text>
<text x="708.73" y="1629.00" font-size="37.79" textLength="41.96" lengthAdjust="spacingAndGlyphs" fill="#000" stroke="#000" stroke-width="0.3">15</text>
<text x="865.62" y="1629.00" font-size="37.79" textLength="42.04" lengthAdjust="spacingAndGlyphs" fill="#000" stroke="#000" stroke-width="0.3">13</text>
<text x="1017.14" y="1629.00" font-size="37.79" textLength="41.83" lengthAdjust="spacingAndGlyphs" fill="#000" stroke="#000" stroke-width="0.3">10</text>
<text x="246.47" y="1669.00" font-size="37.79" textLength="41.91" lengthAdjust="spacingAndGlyphs" fill="#000" stroke="#000" stroke-width="0.3">30</text>
<text x="399.90" y="1669.00" font-size="37.79" textLength="42.31" lengthAdjust="spacingAndGlyphs" fill="#000" stroke="#000" stroke-width="0.3">17</text>
<text x="555.32" y="1669.00" font-size="37.79" textLength="42.04" lengthAdjust="spacingAndGlyphs" fill="#000" stroke="#000" stroke-width="0.3">13</text>
<text x="708.74" y="1669.00" font-size="37.79" textLength="41.83" lengthAdjust="spacingAndGlyphs" fill="#000" stroke="#000" stroke-width="0.3">10</text>
<text x="886.11" y="1669.00" font-size="37.79" textLength="21.57" lengthAdjust="spacingAndGlyphs" fill="#000" stroke="#000" stroke-width="0.3">8</text>
<text x="1038.47" y="1669.00" font-size="37.79" textLength="20.09" lengthAdjust="spacingAndGlyphs" fill="#000" stroke="#000" stroke-width="0.3">4</text>
<text x="258.54" y="1730.00" font-size="37.79" textLength="21.52" lengthAdjust="spacingAndGlyphs" fill="#000" stroke="#000" stroke-width="0.3">0</text>
<text x="392.23" y="1730.00" font-size="37.79" textLength="63.71" lengthAdjust="spacingAndGlyphs" fill="#000" stroke="#000" stroke-width="0.3">250</text>
<text x="546.93" y="1730.00" font-size="37.79" textLength="63.30" lengthAdjust="spacingAndGlyphs" fill="#000" stroke="#000" stroke-width="0.3">500</text>
<text x="700.69" y="1730.00" font-size="37.79" textLength="63.75" lengthAdjust="spacingAndGlyphs" fill="#000" stroke="#000" stroke-width="0.3">750</text>
<text x="844.60" y="1730.00" font-size="37.79" textLength="84.58" lengthAdjust="spacingAndGlyphs" fill="#000" stroke="#000" stroke-width="0.3">1000</text>
<text x="998.90" y="1730.00" font-size="37.79" textLength="84.58" lengthAdjust="spacingAndGlyphs" fill="#000" stroke="#000" stroke-width="0.3">1250</text>
<text x="639.31" y="1785.10" font-size="44.04" textLength="163.72" lengthAdjust="spacingAndGlyphs" fill="#000" stroke="#000" stroke-width="0.3">Time (d)</text>
<text x="1294.76" y="917.00" font-size="62.79" textLength="41.76" lengthAdjust="spacingAndGlyphs" fill="#000" stroke="#000" stroke-width="0.3">D</text>
<line x1="1508.75" y1="952.5" x2="1508.75" y2="1476.0" stroke="#000" stroke-width="3" stroke-linecap="butt"/>
<line x1="1507.25" y1="1474.5" x2="2500" y2="1474.5" stroke="#000" stroke-width="3" stroke-linecap="butt"/>
<line x1="1508.75" y1="977.5" x2="1523.25" y2="977.5" stroke="#000" stroke-width="3" stroke-linecap="butt"/>
<text x="1422.11" y="991.80" font-size="37.94" textLength="73.87" lengthAdjust="spacingAndGlyphs" fill="#000" stroke="#000" stroke-width="0.3">1.00</text>
<line x1="1508.75" y1="1096.25" x2="1523.25" y2="1096.25" stroke="#000" stroke-width="3" stroke-linecap="butt"/>
<text x="1422.01" y="1110.55" font-size="37.94" textLength="74.09" lengthAdjust="spacingAndGlyphs" fill="#000" stroke="#000" stroke-width="0.3">0.75</text>
<line x1="1508.75" y1="1214.25" x2="1523.25" y2="1214.25" stroke="#000" stroke-width="3" stroke-linecap="butt"/>
<text x="1422.53" y="1228.55" font-size="37.94" textLength="73.45" lengthAdjust="spacingAndGlyphs" fill="#000" stroke="#000" stroke-width="0.3">0.50</text>
<line x1="1508.75" y1="1333" x2="1523.25" y2="1333" stroke="#000" stroke-width="3" stroke-linecap="butt"/>
<text x="1422.52" y="1347.30" font-size="37.94" textLength="73.56" lengthAdjust="spacingAndGlyphs" fill="#000" stroke="#000" stroke-width="0.3">0.25</text>
<line x1="1508.75" y1="1451.25" x2="1523.25" y2="1451.25" stroke="#000" stroke-width="3" stroke-linecap="butt"/>
<text x="1474.49" y="1465.55" font-size="37.94" textLength="21.52" lengthAdjust="spacingAndGlyphs" fill="#000" stroke="#000" stroke-width="0.3">0</text>
<line x1="1553.2" y1="1460.5" x2="1553.2" y2="1474.5" stroke="#000" stroke-width="3" stroke-linecap="butt"/>
<text x="1542.54" y="1519.50" font-size="37.79" textLength="21.52" lengthAdjust="spacingAndGlyphs" fill="#000" stroke="#000" stroke-width="0.3">0</text>
<line x1="1707.5" y1="1460.5" x2="1707.5" y2="1474.5" stroke="#000" stroke-width="3" stroke-linecap="butt"/>
<text x="1676.43" y="1519.50" font-size="37.79" textLength="63.71" lengthAdjust="spacingAndGlyphs" fill="#000" stroke="#000" stroke-width="0.3">250</text>
<line x1="1862.4" y1="1460.5" x2="1862.4" y2="1474.5" stroke="#000" stroke-width="3" stroke-linecap="butt"/>
<text x="1830.83" y="1519.50" font-size="37.79" textLength="63.30" lengthAdjust="spacingAndGlyphs" fill="#000" stroke="#000" stroke-width="0.3">500</text>
<line x1="2016.6" y1="1460.5" x2="2016.6" y2="1474.5" stroke="#000" stroke-width="3" stroke-linecap="butt"/>
<text x="1984.89" y="1519.50" font-size="37.79" textLength="63.75" lengthAdjust="spacingAndGlyphs" fill="#000" stroke="#000" stroke-width="0.3">750</text>
<line x1="2170.6" y1="1460.5" x2="2170.6" y2="1474.5" stroke="#000" stroke-width="3" stroke-linecap="butt"/>
<text x="2130.00" y="1519.50" font-size="37.79" textLength="84.58" lengthAdjust="spacingAndGlyphs" fill="#000" stroke="#000" stroke-width="0.3">1000</text>
<line x1="2324.6" y1="1460.5" x2="2324.6" y2="1474.5" stroke="#000" stroke-width="3" stroke-linecap="butt"/>
<text x="2283.80" y="1519.50" font-size="37.79" textLength="84.58" lengthAdjust="spacingAndGlyphs" fill="#000" stroke="#000" stroke-width="0.3">1250</text>
<text transform="translate(1386.00,1504.00) rotate(-90)" x="-2.25" y="0" font-size="44.33" textLength="583.79" lengthAdjust="spacingAndGlyphs" fill="#000" stroke="#000" stroke-width="0.3">Cumulative incidence of NRM</text>
<text x="2241.00" y="1060.00" font-size="37.79" textLength="137.10" lengthAdjust="spacingAndGlyphs" fill="#000" stroke="#000" stroke-width="0.3">P=0.583</text>
<line x1="2244.25" y1="1094.25" x2="2298.25" y2="1094.25" stroke="#46769e" stroke-width="2.8" stroke-linecap="butt"/>
<path d="M2264.25 1097.05H2275.25M2269.75 1090.75V1102.85" stroke="#46769e" stroke-width="5.6" stroke-linecap="round" fill="none"/>
<text x="2306.43" y="1108.75" font-size="38.08" textLength="164.87" lengthAdjust="spacingAndGlyphs" fill="#000" stroke="#000" stroke-width="0.3">Allo-HSCT</text>
<line x1="2244.25" y1="1146.25" x2="2298.25" y2="1146.25" stroke="#e4a02c" stroke-width="2.8" stroke-linecap="butt"/>
<path d="M2264.25 1149.05H2275.25M2269.75 1142.75V1154.85" stroke="#e4a02c" stroke-width="5.6" stroke-linecap="round" fill="none"/>
<text x="2306.44" y="1157.50" font-size="38.08" textLength="84.29" lengthAdjust="spacingAndGlyphs" fill="#000" stroke="#000" stroke-width="0.3">ASCT</text>
<path d="M1553.7 1451.2H1648V1434.2H1801.6V1418.4H2457" fill="none" stroke="#46769e" stroke-width="2.8" stroke-linejoin="miter"/>
<path d="M1553.7 1451.2H1816.5V1433.3H2457" fill="none" stroke="#e4a02c" stroke-width="2.8" stroke-linejoin="miter"/>
<text x="1508.09" y="1580.00" font-size="37.79" textLength="250.61" lengthAdjust="spacingAndGlyphs" fill="#000" stroke="#000" stroke-width="0.3">Number at risk</text>
<line x1="1509.25" y1="1594.5" x2="1509.25" y2="1686.0" stroke="#000" stroke-width="3" stroke-linecap="butt"/>
<line x1="1507.75" y1="1684.5" x2="2501.8" y2="1684.5" stroke="#000" stroke-width="3" stroke-linecap="butt"/>
<line x1="1509.25" y1="1619.25" x2="1523.75" y2="1619.25" stroke="#333" stroke-width="3" stroke-linecap="butt"/>
<line x1="1509.25" y1="1659.25" x2="1523.75" y2="1659.25" stroke="#333" stroke-width="3" stroke-linecap="butt"/>
<line x1="1553.1" y1="1672.0" x2="1553.1" y2="1684.5" stroke="#333" stroke-width="3" stroke-linecap="butt"/>
<line x1="1708.2" y1="1672.0" x2="1708.2" y2="1684.5" stroke="#333" stroke-width="3" stroke-linecap="butt"/>
<line x1="1863.2" y1="1672.0" x2="1863.2" y2="1684.5" stroke="#333" stroke-width="3" stroke-linecap="butt"/>
<line x1="2016.4" y1="1672.0" x2="2016.4" y2="1684.5" stroke="#333" stroke-width="3" stroke-linecap="butt"/>
<line x1="2173.3" y1="1672.0" x2="2173.3" y2="1684.5" stroke="#333" stroke-width="3" stroke-linecap="butt"/>
<line x1="2324.1" y1="1672.0" x2="2324.1" y2="1684.5" stroke="#333" stroke-width="3" stroke-linecap="butt"/>
<text x="1325.88" y="1629.25" font-size="37.65" textLength="164.17" lengthAdjust="spacingAndGlyphs" fill="#46769e" stroke="#46769e" stroke-width="0.3">Allo-HSCT</text>
<text x="1405.19" y="1670.75" font-size="37.65" textLength="84.79" lengthAdjust="spacingAndGlyphs" fill="#e4a02c" stroke="#e4a02c" stroke-width="0.3">ASCT</text>
<text x="1531.47" y="1628.50" font-size="37.79" textLength="41.91" lengthAdjust="spacingAndGlyphs" fill="#000" stroke="#000" stroke-width="0.3">30</text>
<text x="1686.25" y="1628.50" font-size="37.79" textLength="40.89" lengthAdjust="spacingAndGlyphs" fill="#000" stroke="#000" stroke-width="0.3">25</text>
<text x="1840.48" y="1628.50" font-size="37.79" textLength="42.41" lengthAdjust="spacingAndGlyphs" fill="#000" stroke="#000" stroke-width="0.3">20</text>
<text x="1993.62" y="1628.50" font-size="37.79" textLength="42.04" lengthAdjust="spacingAndGlyphs" fill="#000" stroke="#000" stroke-width="0.3">16</text>
<text x="2151.16" y="1628.50" font-size="37.79" textLength="41.43" lengthAdjust="spacingAndGlyphs" fill="#000" stroke="#000" stroke-width="0.3">14</text>
<text x="2302.11" y="1628.50" font-size="37.79" textLength="42.25" lengthAdjust="spacingAndGlyphs" fill="#000" stroke="#000" stroke-width="0.3">11</text>
<text x="1531.47" y="1669.75" font-size="37.79" textLength="41.91" lengthAdjust="spacingAndGlyphs" fill="#000" stroke="#000" stroke-width="0.3">30</text>
<text x="1686.24" y="1669.75" font-size="37.79" textLength="41.17" lengthAdjust="spacingAndGlyphs" fill="#000" stroke="#000" stroke-width="0.3">21</text>
<text x="1841.06" y="1669.75" font-size="37.79" textLength="41.43" lengthAdjust="spacingAndGlyphs" fill="#000" stroke="#000" stroke-width="0.3">14</text>
<text x="1993.62" y="1669.75" font-size="37.79" textLength="42.04" lengthAdjust="spacingAndGlyphs" fill="#000" stroke="#000" stroke-width="0.3">13</text>
<text x="2171.45" y="1669.75" font-size="37.79" textLength="21.91" lengthAdjust="spacingAndGlyphs" fill="#000" stroke="#000" stroke-width="0.3">9</text>
<text x="2322.76" y="1669.75" font-size="37.79" textLength="21.35" lengthAdjust="spacingAndGlyphs" fill="#000" stroke="#000" stroke-width="0.3">5</text>
<text x="1542.54" y="1730.00" font-size="37.79" textLength="21.52" lengthAdjust="spacingAndGlyphs" fill="#000" stroke="#000" stroke-width="0.3">0</text>
<text x="1676.43" y="1730.00" font-size="37.79" textLength="63.71" lengthAdjust="spacingAndGlyphs" fill="#000" stroke="#000" stroke-width="0.3">250</text>
<text x="1830.83" y="1730.00" font-size="37.79" textLength="63.30" lengthAdjust="spacingAndGlyphs" fill="#000" stroke="#000" stroke-width="0.3">500</text>
<text x="1984.89" y="1730.00" font-size="37.79" textLength="63.75" lengthAdjust="spacingAndGlyphs" fill="#000" stroke="#000" stroke-width="0.3">750</text>
<text x="2130.00" y="1730.00" font-size="37.79" textLength="84.58" lengthAdjust="spacingAndGlyphs" fill="#000" stroke="#000" stroke-width="0.3">1000</text>
<text x="2283.80" y="1730.00" font-size="37.79" textLength="84.58" lengthAdjust="spacingAndGlyphs" fill="#000" stroke="#000" stroke-width="0.3">1250</text>
<text x="1922.41" y="1785.10" font-size="44.04" textLength="163.72" lengthAdjust="spacingAndGlyphs" fill="#000" stroke="#000" stroke-width="0.3">Time (d)</text>
</svg></body></html>
